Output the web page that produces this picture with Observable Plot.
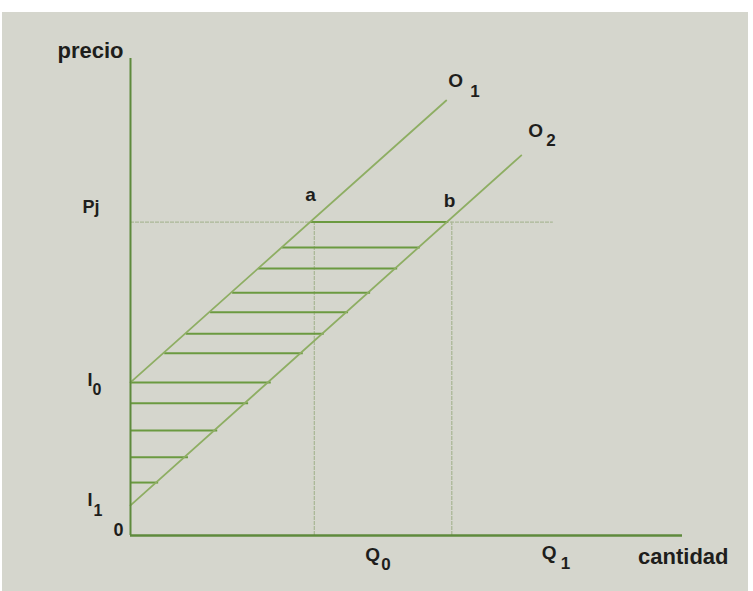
<!DOCTYPE html>
<html><head><meta charset="utf-8">
<script src="https://cdn.jsdelivr.net/npm/d3@7"></script>
<script src="https://cdn.jsdelivr.net/npm/@observablehq/plot@0.6"></script>
<style>
html,body{margin:0;padding:0;background:#fff;}
#chart{position:absolute;left:2px;top:12px;width:746px;height:579px;background:#d5d6cd;}
</style></head><body><div id="chart"></div>
<script>
// Values (quantity q on x, price p on y, both 0–100)
const Pj = 65.7, I0 = 32.1, I1 = 6.3;
const supply1 = [{q: 0, p: 32.1}, {q: 57.2, p: 91.2}];
const supply2 = [{q: 0, p: 6.3}, {q: 70.8, p: 79.7}];
const hatchP    = [65.7, 60.4, 56.0, 50.9, 46.8, 42.3, 38.2, 32.1, 27.7, 22.0, 16.4, 11.1];
const hatchFrom = [32.6, 27.5, 23.2, 18.5, 14.5, 10.1, 6.2, 0, 0, 0, 0, 0];
const hatchTo   = [57.6, 52.5, 48.4, 43.5, 39.5, 35.1, 31.3, 25.5, 21.4, 15.8, 10.5, 5.1];
const pointA = {q: 32.6, p: 65.7}, pointB = {q: 57.6, p: 65.7};
const Q0 = 33.3, Q1 = 58.2;
const priceLineEnd = 76.6;
const axisMax = 100;

const FONT = "'Liberation Sans', Arial, Helvetica, sans-serif";
const INK = "#1e1e1c";
function label(x, y, text, opts) {
  return Plot.text([{x, y}], {
    x: "x", y: "y", text: () => text, lineAnchor: "bottom",
    fontFamily: FONT, fontWeight: "bold", fill: INK, fontSize: 19, ...opts
  });
}

const hatch = hatchP.map((p, i) => ({p, from: hatchFrom[i], to: hatchTo[i]}));

const chart = Plot.plot({
  width: 746, height: 579,
  marginTop: 46, marginBottom: 56, marginLeft: 128, marginRight: 66,
  x: {domain: [0, axisMax], axis: null},
  y: {domain: [0, axisMax], axis: null},
  style: {background: "transparent", overflow: "visible"},
  marks: [
    Plot.ruleY([Pj], {x1: 0, x2: priceLineEnd, stroke: "#abb897", strokeWidth: 1.3, strokeDasharray: "4,1"}),
    Plot.ruleX([Q0, Q1], {y1: 0, y2: Pj, stroke: "#abb897", strokeWidth: 1.3, strokeDasharray: "4,1"}),
    Plot.ruleY(hatch, {y: "p", x1: "from", x2: "to", stroke: "#6b9a40", strokeWidth: 2}),
    Plot.line(supply1, {x: "q", y: "p", stroke: "#8eae63", strokeWidth: 1.8}),
    Plot.line(supply2, {x: "q", y: "p", stroke: "#8eae63", strokeWidth: 1.8}),
    Plot.ruleX([0], {y1: 0, y2: axisMax, stroke: "#5e8a3c", strokeWidth: 2}),
    Plot.ruleY([0], {x1: 0, x2: axisMax, stroke: "#5e8a3c", strokeWidth: 2.4}),
    label(0, axisMax, "precio", {textAnchor: "end", dx: -7, dy: -1, fontSize: 22, letterSpacing: "0.6px"}),
    label(axisMax, 0, "cantidad", {textAnchor: "end", dx: 46, dy: 28, fontSize: 22, letterSpacing: "0.6px"}),
    label(0, Pj, "Pj", {textAnchor: "start", dx: -48, dy: -9, fontSize: 18}),
    label(0, I0, "I", {textAnchor: "start", dx: -43, dy: 4, fontSize: 18}),
    label(0, I0, "0", {textAnchor: "start", dx: -38, dy: 13, fontSize: 16}),
    label(0, I1, "I", {textAnchor: "start", dx: -43, dy: 1, fontSize: 18}),
    label(0, I1, "1", {textAnchor: "start", dx: -37, dy: 11, fontSize: 16}),
    label(0, 0, "0", {textAnchor: "end", dx: -7, dy: 0, fontSize: 18}),
    label(pointA.q, pointA.p, "a", {textAnchor: "middle", dx: 0, dy: -21}),
    label(pointB.q, pointB.p, "b", {textAnchor: "middle", dx: 1, dy: -15}),
    label(supply1[1].q, supply1[1].p, "O", {textAnchor: "start", dx: 2, dy: -13}),
    label(supply1[1].q, supply1[1].p, "1", {textAnchor: "start", dx: 24, dy: -3, fontSize: 17}),
    label(supply2[1].q, supply2[1].p, "O", {textAnchor: "start", dx: 7, dy: -18}),
    label(supply2[1].q, supply2[1].p, "2", {textAnchor: "start", dx: 25, dy: -9, fontSize: 17}),
    label(Q0, 0, "Q", {textAnchor: "start", dx: 51, dy: 25}),
    label(Q0, 0, "0", {textAnchor: "start", dx: 67, dy: 34, fontSize: 17}),
    label(Q1, 0, "Q", {textAnchor: "start", dx: 90, dy: 23}),
    label(Q1, 0, "1", {textAnchor: "start", dx: 109, dy: 33, fontSize: 17})
  ]
});
document.getElementById("chart").appendChild(chart);
</script>
</body></html>
